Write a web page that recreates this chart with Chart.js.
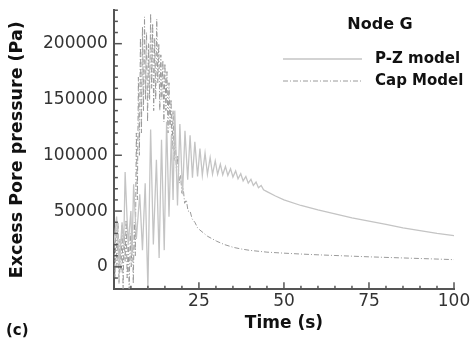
<!DOCTYPE html>
<html lang="en">
<head>
<meta charset="UTF-8">
<title>Node G - excess pore pressure</title>
<style>
  html, body { margin:0; padding:0; background:#fff; }
  #wrap { width:473px; height:345px; }
</style>
</head>
<body>
<div id="wrap"><canvas id="myChart"></canvas></div>

<script src="https://cdn.jsdelivr.net/npm/chart.js@4.4.0/dist/chart.umd.min.js"></script>
<script>
// values: time (s) / pressure (Pa)
var pzTime = [0, 0.8, 1.6, 2.4, 2.9, 3.3, 4.2, 5.0, 5.3, 5.8, 6.6, 7.6, 8.4, 9.2, 10.0, 10.8, 11.6, 12.5, 13.3, 14.0,
              14.8, 15.5, 16.2, 16.9, 17.4, 17.9, 18.7, 19.4, 20.2, 20.9, 21.7, 22.4, 23.1, 23.8, 24.6, 25.3, 26.0, 26.8, 27.5, 28.3,
              29.0, 29.8, 30.5, 31.3, 32.0, 32.8, 33.5, 34.3, 35.0, 35.8, 36.5, 37.3, 38.0, 38.8, 39.5, 40.3, 41.0, 41.8, 42.5, 43.3,
              44.0, 45.0, 47.5, 50, 55, 60, 65, 70, 75, 80, 85, 90, 95, 100];
var pzPres = [20000, 45000, 0, 40000, 20000, 85000, 20000, 50000, 10000, 74000, 25000, 65000, 15000, 75000, -20000, 123000, 20000, 96000, 8000, 114000,
              15000, 130000, 45000, 118000, 60000, 140000, 55000, 128000, 65000, 122000, 78000, 118000, 80000, 112000, 81000, 106000, 82000, 102000, 83000, 98000,
              83000, 95000, 83000, 92000, 82500, 90000, 82000, 88000, 80500, 86000, 79000, 83500, 77000, 81000, 75000, 78500, 73000, 76000, 71000, 73000,
              69000, 67500, 63500, 60000, 55000, 51000, 47500, 44000, 41000, 38000, 35000, 32500, 30000, 28000];

var capTime = [0, 0.3, 0.6, 0.9, 1.2, 1.5, 1.8, 2.1, 2.4, 2.7, 3.0, 3.3, 3.6, 3.9, 4.2, 4.5, 4.8, 5.1, 5.4, 5.7,
               6.0, 6.3, 6.6, 6.9, 7.2, 7.5, 7.8, 8.1, 8.4, 8.7, 9.0, 9.3, 9.6, 9.9, 10.2, 10.5, 10.8, 11.1, 11.4, 11.7,
               12.0, 12.3, 12.6, 12.9, 13.2, 13.5, 13.8, 14.1, 14.4, 14.7, 15.0, 15.3, 15.6, 15.9, 16.2, 16.5, 16.8, 17.1, 17.4, 17.7,
               18.0, 18.4, 18.8, 19.2, 19.6, 20.0, 20.4, 20.8, 21.3, 21.8, 22.4, 23.0, 23.8, 24.6, 25.3, 26.5, 27.5, 29, 30.2, 32.5,
               35.1, 37.5, 40, 45, 50, 55, 60, 65, 70, 75, 80, 85, 90, 95, 100];
var capPres = [30000, -10000, 35000, 0, 40000, -15000, 25000, -5000, 38000, -20000, 30000, 5000, 42000, -10000, 20000, -20000, 30000, 0, 35000, -15000,
               40000, 10000, 120000, 60000, 170000, 100000, 205000, 120000, 215000, 140000, 224000, 150000, 210000, 130000, 200000, 150000, 227000, 160000, 218000, 140000,
               205000, 150000, 222000, 165000, 200000, 140000, 190000, 150000, 185000, 130000, 182000, 140000, 175000, 120000, 165000, 125000, 150000, 105000, 140000, 95000,
               120000, 85000, 100000, 75000, 82000, 66000, 70000, 57000, 60000, 50000, 50000, 43000, 40000, 35000, 33000, 30000, 27500, 25000, 23000, 20000,
               17500, 16000, 14800, 13200, 12300, 11500, 10800, 10200, 9600, 9000, 8500, 8000, 7500, 7000, 6500];

var xTickLabels = [25, 50, 75, 100];
var yTickLabels = [0, 50000, 100000, 150000, 200000];
var seriesNames = ['P-Z model', 'Cap Model'];
var legendTitle = 'Node G';
var panelTag = '(c)';

var FONT = "'DejaVu Sans', sans-serif";

function toPoints(xs, ys){
    var pts = [];
    for(var i=0; i<xs.length; i++){
        pts.push({x: xs[i], y: ys[i]});
    }
    return pts;
}

// inward tick marks, long on labelled values
var tickMarks = {
    id: 'tickMarks',
    afterDraw: function(chart){
        var ctx = chart.ctx, a = chart.chartArea;
        var xs = chart.scales.x, ys = chart.scales.y;
        ctx.save();
        ctx.strokeStyle = '#555';
        ctx.lineWidth = 1.5;
        xs.ticks.forEach(function(t){
            var px = xs.getPixelForValue(t.value);
            var len = xTickLabels.indexOf(t.value) >= 0 ? 7 : 3.5;
            ctx.beginPath();
            ctx.moveTo(px, a.bottom);
            ctx.lineTo(px, a.bottom - len);
            ctx.stroke();
        });
        ys.ticks.forEach(function(t){
            var py = ys.getPixelForValue(t.value);
            var len = yTickLabels.indexOf(t.value) >= 0 ? 8 : 4;
            ctx.beginPath();
            ctx.moveTo(a.left, py);
            ctx.lineTo(a.left + len, py);
            ctx.stroke();
        });
        ctx.restore();
    }
};

// legend block in the upper right, plus the panel tag
var legendBox = {
    id: 'legendBox',
    afterDraw: function(chart){
        var ctx = chart.ctx;
        ctx.save();
        ctx.fillStyle = '#111';
        ctx.textBaseline = 'middle';
        ctx.font = 'bold 16px ' + FONT;
        ctx.textAlign = 'center';
        ctx.fillText(legendTitle, 380, 25);

        ctx.textAlign = 'left';
        ctx.font = 'bold 15px ' + FONT;
        var rows = [59, 81];
        chart.data.datasets.forEach(function(ds, i){
            ctx.save();
            ctx.strokeStyle = ds.borderColor;
            ctx.lineWidth = ds.borderWidth;
            ctx.setLineDash(ds.borderDash || []);
            ctx.beginPath();
            ctx.moveTo(283, rows[i]);
            ctx.lineTo(362, rows[i]);
            ctx.stroke();
            ctx.restore();
            ctx.fillText(seriesNames[i], 375, rows[i]);
        });

        ctx.font = 'bold 15px ' + FONT;
        ctx.fillText(panelTag, 6, 331);
        ctx.restore();
    }
};

const ctx = document.getElementById('myChart').getContext('2d');
const myChart = new Chart(ctx, {
    type: 'scatter',
    data: {
        datasets: [{
            label: seriesNames[0],
            data: toPoints(pzTime, pzPres),
            showLine: true,
            borderColor: '#c4c4c4',
            borderWidth: 1.3,
            pointRadius: 0
        },{
            label: seriesNames[1],
            data: toPoints(capTime, capPres),
            showLine: true,
            borderColor: '#9a9a9a',
            borderWidth: 1,
            borderDash: [5, 2, 1, 2],
            pointRadius: 0
        }]
    },
    options: {
        responsive: true,
        maintainAspectRatio: false,
        animation: false,
        layout: { padding: { left: 0, right: 19, top: 0, bottom: 11 } },
        plugins: {
            legend: { display: false },
            tooltip: { enabled: false }
        },
        scales: {
            x: {
                type: 'linear',
                min: 0,
                max: 100,
                grid: { display: false, drawTicks: false },
                border: { display: true, color: '#555', width: 2 },
                ticks: {
                    stepSize: 5,
                    autoSkip: false,
                    maxRotation: 0,
                    padding: 2,
                    color: '#333',
                    font: { family: FONT, size: 17 },
                    callback: function(v){ return xTickLabels.indexOf(v) >= 0 ? String(v) : ''; }
                },
                title: {
                    display: true,
                    text: 'Time (s)',
                    color: '#111',
                    font: { family: FONT, size: 17, weight: 'bold' },
                    padding: { top: 0, bottom: 0 }
                }
            },
            y: {
                min: -20000,
                max: 230000,
                // invisible tick length keeps the label gap without padding the top
                grid: { display: true, drawOnChartArea: false, drawTicks: true, tickLength: 6, tickColor: 'rgba(0,0,0,0)' },
                border: { display: true, color: '#555', width: 2 },
                ticks: {
                    stepSize: 10000,
                    autoSkip: false,
                    padding: 0,
                    color: '#333',
                    font: { family: FONT, size: 17 },
                    callback: function(v){ return yTickLabels.indexOf(v) >= 0 ? String(v) : ''; }
                },
                title: {
                    display: true,
                    text: 'Excess Pore pressure (Pa)',
                    color: '#111',
                    font: { family: FONT, size: 17.5, weight: 'bold' },
                    padding: { top: 7, bottom: 15 }
                }
            }
        }
    },
    plugins: [tickMarks, legendBox]
});
</script>
</body>
</html>
